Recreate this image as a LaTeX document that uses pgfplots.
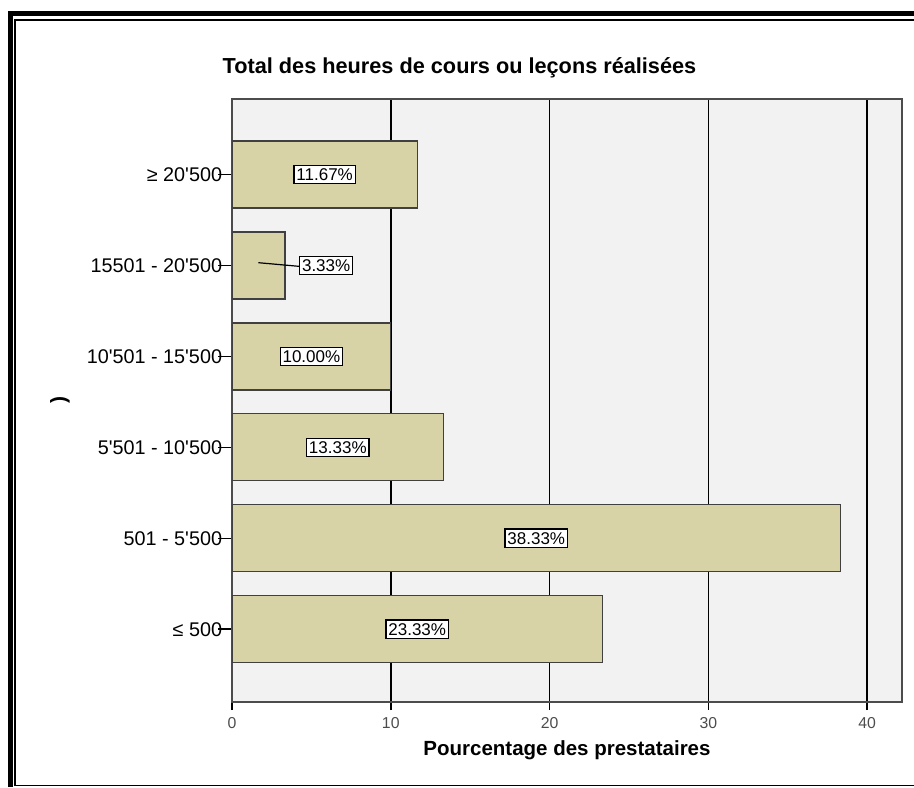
\documentclass[border=0pt]{standalone}
\usepackage{fontspec}
\setmainfont{Liberation Sans}
\usepackage{pgfplots}
\pgfplotsset{compat=1.18}
\definecolor{barfill}{RGB}{216,211,166}
\definecolor{plotbg}{RGB}{242,242,242}
\newcommand{\q}{\textquotesingle}
\begin{document}
\begin{tikzpicture}
\useasboundingbox (0,0) rectangle (457pt,393.5pt);
% frame
\draw[line width=2.5pt] (5.25pt,0pt) -- (5.25pt,386.75pt) -- (457pt,386.75pt);
\draw[line width=0.75pt] (457pt,383.5pt) -- (7.5pt,383.5pt) -- (7.5pt,0.75pt) -- (457pt,0.75pt);
\node[rotate=90, font=\fontsize{10.5pt}{12pt}\selectfont\bfseries, anchor=center] at (30pt,193.5pt) {)};
\begin{axis}[
  at={(116pt,42.5pt)}, anchor=south west,
  scale only axis, width=335pt, height=301.5pt,
  xmin=0, xmax=42.2, ymin=-0.8, ymax=5.83,
  axis background/.style={fill=plotbg},
  axis line style={draw=black!70, line width=0.75pt},
  xtick={0,10,20,30,40},
  ytick={0,1,2,3,4,5},
  yticklabels={≤ 500, 501 - 5\q500, 5\q501 - 10\q500, 10\q501 - 15\q500, 15501 - 20\q500, ≥ 20\q500},
  xtick pos=bottom, ytick pos=left,
  tick align=outside,
  xtick style={draw=black, line width=0.75pt, /pgfplots/major tick length=4pt},
  ytick style={draw=black, line width=0.75pt, /pgfplots/major tick length=7pt},
  xmajorgrids,
  grid style={draw=black, line width=0.75pt},
  /pgf/number format/assume math mode=true,
  xticklabel style={font=\fontsize{7.9pt}{9pt}\selectfont, text=black!70},
  yticklabel style={font=\fontsize{9.9pt}{11pt}\selectfont, inner sep=0pt, xshift=-0.5pt},
  title={Total des heures de cours ou leçons réalisées},
  title style={font=\fontsize{10.85pt}{13pt}\selectfont\bfseries, at={(axis description cs:0,1)}, anchor=base, xshift=113.75pt, yshift=6.5pt},
  xlabel={Pourcentage des prestataires},
  xlabel style={font=\fontsize{10.25pt}{12pt}\selectfont\bfseries, at={(axis description cs:0.5,0)}, anchor=base, yshift=-26.5pt},
]
\addplot[xbar, bar width=33.5pt, fill=barfill, draw=black!75, line width=0.65pt] coordinates {
  (23.33,0) (38.33,1) (13.33,2) (10.00,3) (3.33,4) (11.67,5)
};
\addplot[draw=black, line width=0.6pt] coordinates {(1.665,4.03) (4.22,3.99)};
\addplot[draw=none, nodes near coords={\pgfplotspointmeta\%}, point meta=explicit symbolic,
  every node near coord/.style={anchor=center, fill=white, draw=black, line width=0.6pt, inner xsep=1.2pt, inner ysep=1.6pt, font=\fontsize{8.5pt}{10pt}\selectfont}]
  table[meta=lab] {
x y lab
11.665 0 23.33
19.165 1 38.33
6.665 2 13.33
5.0 3 10.00
5.93 4 3.33
5.835 5 11.67
};
\end{axis}
\end{tikzpicture}
\end{document}
